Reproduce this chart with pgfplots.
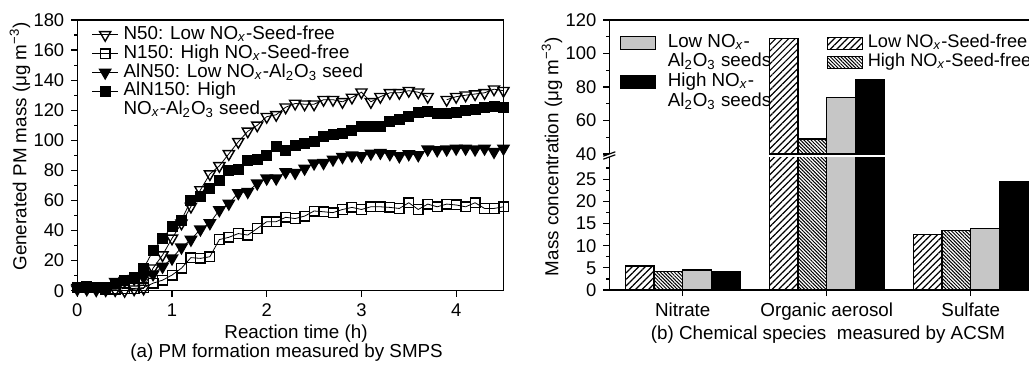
\documentclass[border=0pt]{standalone}
\usepackage{pgfplots}
\pgfplotsset{compat=1.18}
\usepackage{pgfplotstable}
\usepackage{fontspec}
\setmainfont{Liberation Sans}
\usetikzlibrary{patterns.meta}

\newcommand{\NOx}{NO\textsubscript{\textit{x}}}
\newcommand{\AlO}{Al\textsubscript{2}O\textsubscript{3}}
\newcommand{\fnt}{\fontsize{9.4}{11}\selectfont}
\newcommand{\tfnt}{\fontsize{9.2}{10}\selectfont}

\pgfplotstableread{
t   N50   N150  AlN50 AlN150
0.0 1     2     2     2
0.1 1     2     2.5   3
0.2 0.5   2     2     2
0.3 0.5   1     2     2
0.4 0.5   1     6     5
0.5 0     1.5   6.6   7
0.6 1     1.5   8     9
0.7 1.5   2     9     14.8
0.8 15    5     11    26.6
0.9 23.7  7     16    34.8
1.0 34.8  10.4  21.5  42.5
1.1 44.8  15    28.8  47
1.2 56    22    34    60
1.3 67    21.5  40.8  62.5
1.4 77.6  22.6  45    68
1.5 83    34    53.6  73.6
1.6 91    35.5  58    80
1.7 99    38    65    80.7
1.8 106   37    65.8  86.4
1.9 110   41.4  71.4  87.3
2.0 115.7 45.9  74.7  90.2
2.1 117   45.9  74.7  96
2.2 122   48.8  79    93.5
2.3 124.5 48    78.5  96.4
2.4 124   49.6  81.3  98
2.5 124   53    84.7  99
2.6 127   52.5  85    102.4
2.7 127   51.9  87.3  104.2
2.8 125.6 54    89    104.6
2.9 128.5 55.4  90    106.4
3.0 132   54    89.5  109
3.1 125.6 55.8  91.3  109
3.2 129   55.8  91.8  109
3.3 131.6 55.4  90.9  112.4
3.4 131.6 54.7  89.5  114
3.5 133   58.5  90.9  115.7
3.6 132   54    90.2  118.3
3.7 129   57.6  94    119
3.8 nan   55.8  93.5  117.9
3.9 127   57.6  94    117.9
4.0 129   57    94.6  118.3
4.1 130   55.8  94.6  119.7
4.2 130.8 58.5  94    120.6
4.3 131.6 54.7  94.6  121.9
4.4 134   54.7  92.4  122.8
4.5 133   55.8  94.6  121.9
}\dataA

% lower (0-30) part of the broken axis
\pgfplotstableread{
x  LowSF HighSF LowAl HighAl
0  5.4   4.2    4.5   4.2
1  109.1 49     73.8  84.6
2  12.6  13.5   13.8  24.5
}\dataB
% upper (40-120) part: only the organic aerosol group reaches it
\pgfplotstableread{
x  LowSF HighSF LowAl HighAl
1  109.1 49     73.8  84.6
}\dataC

\pgfplotsset{
  myaxis/.style={
    scale only axis, anchor=south west,
    tick label style={font=\tfnt},
    /pgf/number format/assume math mode=true,
    tick align=outside,
    major tick length=3pt, minor tick length=1.5pt,
    tick style={black, line width=0.6pt},
    axis line style={-, line width=0.6pt, black},
    legend cell align=left,
  },
  sLowSF/.style={ybar, bar width=0.2, bar shift=-0.3, draw=black, line width=0.6pt,
    pattern={Lines[angle=45,distance=2.3pt,line width=0.6pt]}},
  sHighSF/.style={ybar, bar width=0.2, bar shift=-0.1, draw=black, line width=0.6pt,
    pattern={Lines[angle=-45,distance=1.25pt,line width=0.5pt]}},
  sLowAl/.style={ybar, bar width=0.2, bar shift=0.1, draw=black, line width=0.6pt, fill=gray!45},
  sHighAl/.style={ybar, bar width=0.2, bar shift=0.3, draw=black, line width=0.6pt, fill=black},
}

\begin{document}
\begin{tikzpicture}
\path[use as bounding box] (0pt,0pt) rectangle (514.5pt,186pt);
\clip (0pt,0pt) rectangle (514.5pt,186pt);

% ---------------- left panel ----------------
\begin{axis}[myaxis, name=leftax,
  at={(38.65pt,40.65pt)},
  width=213.1pt, height=135.35pt,
  xmin=0, xmax=4.5, ymin=0, ymax=180,
  xtick={0,1,2,3,4}, ytick={0,20,...,180}, minor y tick num=1,
  xtick pos=left, ytick pos=left,
  unbounded coords=jump,
  legend style={at={(axis description cs:0.034,0.98)}, anchor=north west,
    draw=none, fill=none, inner sep=0pt, outer sep=0pt, row sep=0pt, column sep=2.5pt,
    font=\fnt, nodes={inner sep=0pt, text height=7pt, text depth=2.4pt}},
  legend image code/.code={\draw[mark repeat=2,mark phase=2,#1] plot coordinates {(0pt,0pt) (6.5pt,0pt) (13pt,0pt)};},
]
\addplot[black, line width=0.4pt, mark=triangle, mark size=3.2pt,
  mark options={rotate=180, fill=white, line width=0.7pt}] table[x=t,y=N50]{\dataA};
\addlegendentry{N50: Low \NOx-Seed-free}
\addplot[black, line width=0.4pt, mark=square, mark size=2.4pt,
  mark options={fill=white, line width=0.7pt}] table[x=t,y=N150]{\dataA};
\addlegendentry{N150: High \NOx-Seed-free}
\addplot[black, line width=0.4pt, mark=triangle*, mark size=3.2pt,
  mark options={rotate=180, fill=black, line width=0.7pt}] table[x=t,y=AlN50]{\dataA};
\addlegendentry{AlN50: Low \NOx-\AlO\ seed}
\addplot[black, line width=0.4pt, mark=square*, mark size=2.4pt,
  mark options={fill=black, line width=0.7pt}] table[x=t,y=AlN150]{\dataA};
\addlegendentry{AlN150: High}
\addlegendimage{empty legend}
\addlegendentry{\NOx-\AlO\ seed}
\end{axis}

\node[font=\fnt] at (148pt,19.4pt) {Reaction time (h)};
\node[font=\fnt] at (143.3pt,9.6pt) {(a) PM formation measured by SMPS};
\node[font=\fnt, rotate=90] at (10pt,112.8pt) {Generated PM mass (μg m\textsuperscript{−3})};

% ---------------- right panel: lower part ----------------
\begin{axis}[myaxis, name=lower,
  at={(304.65pt,41pt)},
  width=217.45pt, height=66.5pt,
  xmin=-0.51, xmax=2.51, ymin=0, ymax=30,
  axis x line*=bottom, axis y line*=left,
  xtick={0,1,2}, xticklabels={Nitrate,Organic aerosol,Sulfate},
  xticklabel style={font=\fnt},
  ytick={0,5,...,25}, minor ytick={2.5,7.5,...,27.5},
  legend style={at={(axis description cs:0.5006,1.926)}, anchor=north west,
    draw=none, fill=none, inner sep=0pt, outer sep=0pt, row sep=0pt, column sep=2.5pt,
    font=\fontsize{9.1}{11}\selectfont, nodes={inner sep=0pt, text height=7pt, text depth=2.5pt}},
]
\addlegendimage{legend image code/.code={\draw[line width=0.6pt, pattern={Lines[angle=45,distance=2.3pt,line width=0.6pt]}] (0pt,-3pt) rectangle (17.3pt,3pt);}}
\addlegendentry{Low \NOx-Seed-free}
\addlegendimage{legend image code/.code={\draw[line width=0.6pt, pattern={Lines[angle=-45,distance=1.25pt,line width=0.5pt]}] (0pt,-3pt) rectangle (17.3pt,3pt);}}
\addlegendentry{High \NOx-Seed-free}
\addplot[sLowSF] table[x=x,y=LowSF]{\dataB};
\addplot[sHighSF] table[x=x,y=HighSF]{\dataB};
\addplot[sLowAl] table[x=x,y=LowAl]{\dataB};
\addplot[sHighAl] table[x=x,y=HighAl]{\dataB};
\end{axis}

% ---------------- right panel: upper part ----------------
\begin{axis}[myaxis, name=upper,
  at={(304.65pt,109pt)},
  width=217.45pt, height=67pt,
  xmin=-0.51, xmax=2.51, ymin=40, ymax=120,
  axis x line*=top, axis y line*=left,
  xtick=\empty,
  ytick={40,60,...,120}, minor ytick={50,70,...,110},
  legend style={at={(axis description cs:0.0246,0.904)}, anchor=north west,
    draw=none, fill=none, inner sep=0pt, outer sep=0pt, row sep=0pt, column sep=5.8pt,
    font=\fnt, nodes={inner sep=0pt, text height=7.2pt, text depth=2.6pt}},
]
\addlegendimage{legend image code/.code={\draw[line width=0.6pt, fill=gray!45] (0pt,-3.25pt) rectangle (17.5pt,3.25pt);}}
\addlegendentry{Low \NOx-}
\addlegendimage{empty legend}
\addlegendentry{\AlO\ seeds}
\addlegendimage{legend image code/.code={\draw[line width=0.6pt, fill=black] (0pt,-3.25pt) rectangle (17.5pt,3.25pt);}}
\addlegendentry{High \NOx-}
\addlegendimage{empty legend}
\addlegendentry{\AlO\ seeds}
\addplot[sLowSF] table[x=x,y=LowSF]{\dataC};
\addplot[sHighSF] table[x=x,y=HighSF]{\dataC};
\addplot[sLowAl] table[x=x,y=LowAl]{\dataC};
\addplot[sHighAl] table[x=x,y=HighAl]{\dataC};
\end{axis}

\draw[line width=0.6pt] ([shift={(-3pt,-1.1pt)}]upper.south west) -- ([shift={(3pt,1.1pt)}]upper.south west);
\draw[line width=0.6pt] ([shift={(-3pt,-1.1pt)}]lower.north west) -- ([shift={(3pt,1.1pt)}]lower.north west);

\node[font=\fnt, rotate=90] at (276pt,107.7pt) {Mass concentration (μg m\textsuperscript{−3})};
\node[font=\fnt] at (414pt,18.8pt) {(b) Chemical species\ \ measured by ACSM};
\end{tikzpicture}
\end{document}
